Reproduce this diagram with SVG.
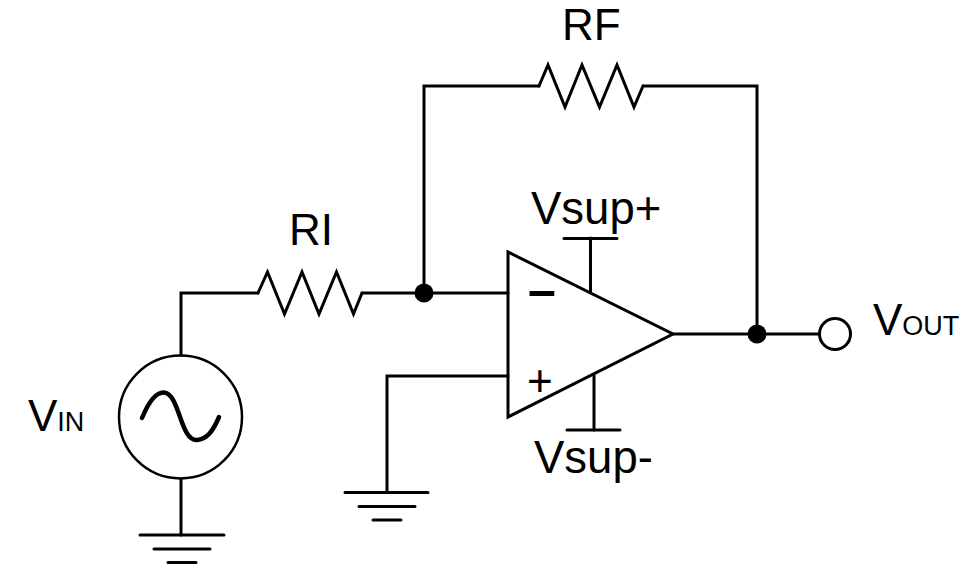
<svg xmlns="http://www.w3.org/2000/svg" width="970" height="578" viewBox="0 0 970 578">
<style>
.w{fill:none;stroke:#000;stroke-width:3;stroke-linejoin:miter;stroke-linecap:round}
.d{fill:#000;stroke:none}
text{font-family:"Liberation Sans",Arial,sans-serif;fill:#000;font-size:44px}
.v{font-size:45.500px}
.s{font-size:27px}
</style>
<rect width="970" height="578" fill="#fff"/>
<g id="connectors">
<path class="w" d="M258 293H181V355"/>
<path class="w" d="M362 293H508"/>
<path class="w" d="M424 293V86H539"/>
<path class="w" d="M643 86H757V334"/>
<path class="w" d="M673 334H820"/>
<path class="w" d="M508 376H387V492"/>
<path class="w" d="M181 479V535"/>
<path class="w" d="M590.500 238V292"/>
<path class="w" d="M594 375V430"/>
</g>
<g id="RF"><path class="w" d="M539 86L548 65L565 107L582 65L599.500 107L617 65L634 107L643 86"/><text x="562" y="40">RF</text></g>
<g id="RI"><path class="w" d="M258 293L267.500 272L284.500 314L302 272L319 314L336.500 272L353.500 314L362 293"/><text x="289" y="245">RI</text></g>
<g id="opamp">
<path class="w" d="M508 252V417L673 334Z"/>
<path class="w" d="M564 238.500H617"/>
<path class="w" d="M567 430H620"/>
<text class="v" x="531" y="224">Vsup+</text>
<text class="v" x="534" y="473">Vsup-</text>
<text x="528" y="306.500" font-size="50" style="font-size:50px" font-weight="700">–</text>
<text x="527" y="395.500">+</text>
</g>
<g id="source">
<circle cx="180.500" cy="417" r="61.500" fill="none" stroke="#000" stroke-width="2.500"/>
<path fill="none" stroke="#000" stroke-width="4.500" stroke-linecap="round" d="M142 418C149 401 156 392 164 392.500C180 394 180 441 197 440C207 439.500 213 431 219 417"/>
<text x="28" y="431">V<tspan class="s">IN</tspan></text>
</g>
<g id="ground1"><path class="w" d="M140 535H224M154 549H210M168 562.500H196"/></g>
<g id="ground2"><path class="w" d="M345 492.500H428M359 506.500H415M373 520H401"/></g>
<g id="junction1"><circle class="d" cx="424" cy="293" r="9.500"/></g>
<g id="junction2"><circle class="d" cx="757" cy="334" r="9.500"/></g>
<g id="vout"><circle cx="835" cy="334" r="15.500" fill="#fff" stroke="#000" stroke-width="3"/><text x="873" y="335">V<tspan class="s">OUT</tspan></text></g>
</svg>
